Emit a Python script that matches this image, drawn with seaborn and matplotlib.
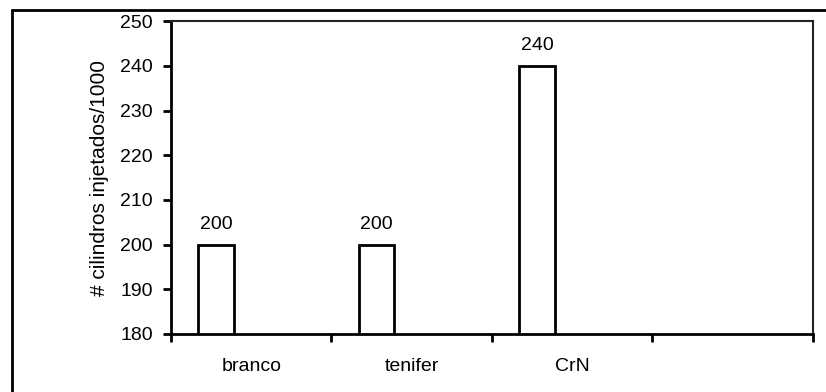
import pandas as pd
import matplotlib.pyplot as plt
import seaborn as sns
from matplotlib.lines import Line2D

categorias = ['branco', 'tenifer', 'CrN', '']
valores = [200, 200, 240]
series = ['serie1', 'serie2', 'serie3']

df = pd.DataFrame({
    'categoria': categorias[:3],
    'valor': valores,
    'serie': ['serie1'] * 3,
})

sns.set_style('white')
plt.rcParams['font.family'] = ['Liberation Sans', 'DejaVu Sans']
plt.rcParams['text.color'] = 'black'
plt.rcParams['xtick.color'] = 'black'
plt.rcParams['ytick.color'] = 'black'
plt.rcParams['axes.labelcolor'] = 'black'

fs = 14

fig = plt.figure(figsize=(8.26, 3.92), dpi=100)
ax = fig.add_axes([0.207, 0.148, 0.777, 0.798])

sns.barplot(data=df, x='categoria', y='valor', hue='serie', order=categorias,
            hue_order=series, width=0.657, dodge=True, fill=False,
            edgecolor='black', linewidth=2, legend=False, ax=ax)

for c in ax.containers:
    ax.bar_label(c, fmt='%d', padding=8.5, fontsize=fs, color='black')

ax.set_ylim(180, 250)
ax.set_yticks(range(180, 251, 10))
ax.set_xlim(-0.5, 3.5)
ax.set_xticks([-0.5, 0.5, 1.5, 2.5, 3.5])
ax.set_xticklabels([])
ax.set_xticks([0, 1, 2], minor=True)
ax.set_xticklabels(categorias[:3], minor=True)
ax.tick_params(axis='x', which='minor', bottom=True, length=0, pad=17, labelsize=fs)
ax.tick_params(axis='x', which='major', bottom=True, length=6, width=2, direction='out')
ax.tick_params(axis='y', left=True, length=6, width=2, direction='out', pad=7, labelsize=fs)
ax.set_xlabel('')
ax.set_ylabel('# cilindros injetados/1000', fontsize=15, labelpad=8)

for s in ['left', 'bottom']:
    ax.spines[s].set_linewidth(2)
    ax.spines[s].set_color('black')
for s in ['top', 'right']:
    ax.spines[s].set_linewidth(1.5)
    ax.spines[s].set_color('#222222')

# moldura exterior
fig.add_artist(Line2D([0.0145, 0.0145], [0.0, 0.9745], color='black', lw=2,
                      transform=fig.transFigure))
fig.add_artist(Line2D([0.0145, 1.0], [0.9745, 0.9745], color='black', lw=2,
                      transform=fig.transFigure))

fig.savefig('out.png', dpi=100)
